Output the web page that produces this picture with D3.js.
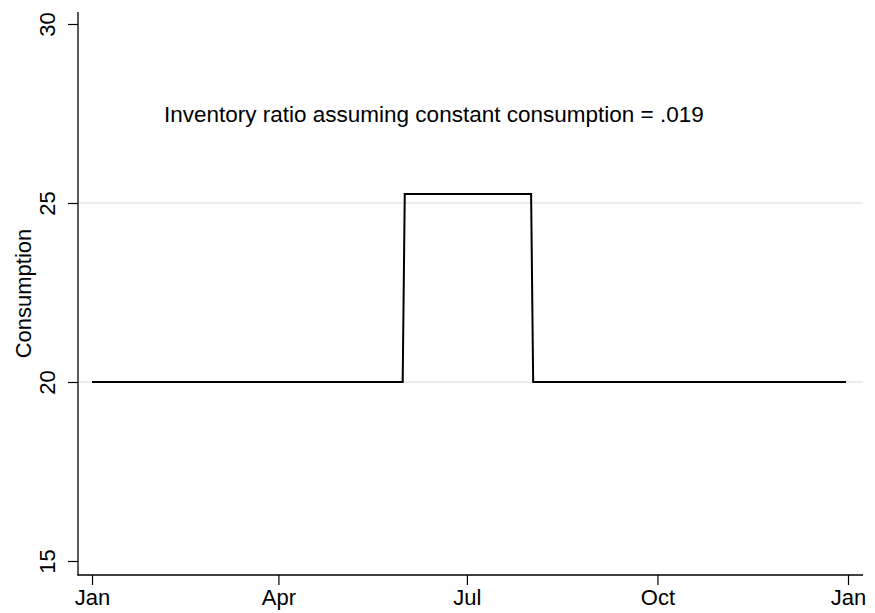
<!DOCTYPE html>
<html>
<head>
<meta charset="utf-8">
<script src="https://cdn.jsdelivr.net/npm/d3@7/dist/d3.min.js"></script>
<style>
  html, body { margin: 0; padding: 0; background: #fff; }
  svg { display: block; font-family: "Liberation Sans", Arial, sans-serif; }
</style>
</head>
<body>
<svg id="chart" width="875" height="613"></svg>
<script>
// Daily consumption: flat at 20, raised during the summer months
const pointDates = ["2021-01-01", "2021-05-31", "2021-06-01", "2021-08-01", "2021-08-02", "2021-12-31"];
const pointValues = [20, 20, 25.25, 25.25, 20, 20];

const xTickDates = ["2021-01-01", "2021-04-01", "2021-07-01", "2021-10-01", "2022-01-01"];
const xTickLabels = ["Jan", "Apr", "Jul", "Oct", "Jan"];
const yTicks = [15, 20, 25, 30];
const gridValues = [20, 25];

const yTitle = "Consumption";
const note = "Inventory ratio assuming constant consumption = .019";

const parse = d3.utcParse("%Y-%m-%d");
const series = pointDates.map((d, i) => ({ date: parse(d), value: pointValues[i] }));

const svg = d3.select("#chart");

const plot = { left: 78, right: 863, top: 12, bottom: 575 };
const fontSize = 22;

const x = d3.scaleUtc()
  .domain([parse(xTickDates[0]), parse(xTickDates[xTickDates.length - 1])])
  .range([92, 848]);

const y = d3.scaleLinear()
  .domain([15, 30])
  .range([561, 24]);

// Horizontal grid lines
svg.append("g")
  .selectAll("line")
  .data(gridValues)
  .join("line")
  .attr("x1", plot.left)
  .attr("x2", plot.right)
  .attr("y1", d => y(d))
  .attr("y2", d => y(d))
  .attr("stroke", "#e6e6e6")
  .attr("stroke-width", 1.5);

// Y axis
const yAxis = svg.append("g")
  .attr("transform", `translate(${plot.left},0)`)
  .call(d3.axisLeft(y).tickValues(yTicks).tickSize(10).tickPadding(6).tickFormat(d3.format("d")));
yAxis.select(".domain").remove();
yAxis.append("line")
  .attr("x1", 0).attr("x2", 0)
  .attr("y1", plot.top).attr("y2", plot.bottom + 0.5)
  .attr("stroke", "#000").attr("stroke-width", 1.3);
yAxis.selectAll(".tick line").attr("stroke", "#000").attr("stroke-width", 1.2);
yAxis.selectAll(".tick text")
  .attr("font-size", fontSize)
  .attr("fill", "#000")
  .attr("x", null)
  .attr("dy", null)
  .attr("text-anchor", "middle")
  .attr("transform", "translate(-23,0) rotate(-90)");

// X axis
const xAxis = svg.append("g")
  .attr("transform", `translate(0,${plot.bottom})`)
  .call(d3.axisBottom(x)
    .tickValues(xTickDates.map(parse))
    .tickSize(10)
    .tickPadding(4)
    .tickFormat((d, i) => xTickLabels[i]));
xAxis.select(".domain").remove();
xAxis.append("line")
  .attr("x1", plot.left - 0.5).attr("x2", plot.right)
  .attr("y1", 0).attr("y2", 0)
  .attr("stroke", "#000").attr("stroke-width", 1.3);
xAxis.selectAll(".tick line").attr("stroke", "#000").attr("stroke-width", 1.2);
xAxis.selectAll(".tick text")
  .attr("font-size", fontSize)
  .attr("fill", "#000")
  .attr("dy", null)
  .attr("y", 30);

// Y axis title
svg.append("text")
  .attr("transform", `translate(31,${(plot.top + plot.bottom) / 2}) rotate(-90)`)
  .attr("text-anchor", "middle")
  .attr("font-size", fontSize)
  .attr("fill", "#000")
  .text(yTitle);

// Consumption line
const line = d3.line()
  .x(d => x(d.date))
  .y(d => y(d.value));

svg.append("path")
  .datum(series)
  .attr("d", line)
  .attr("fill", "none")
  .attr("stroke", "#000")
  .attr("stroke-width", 2)
  .attr("stroke-linejoin", "miter");

// Annotation
svg.append("text")
  .attr("x", 164)
  .attr("y", 122)
  .attr("font-size", 22.5)
  .attr("fill", "#000")
  .text(note);
</script>
</body>
</html>
